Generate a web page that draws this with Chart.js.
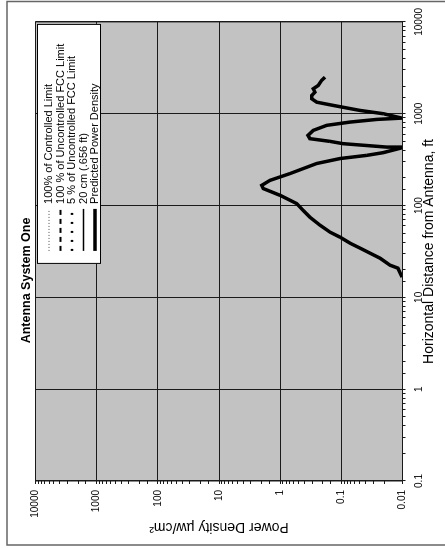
<!DOCTYPE html>
<html><head><meta charset="utf-8">
<script src="https://cdn.jsdelivr.net/npm/chart.js@4.4.1/dist/chart.umd.min.js"></script>
<style>
html,body{margin:0;padding:0;background:#fff;overflow:hidden;width:445px;height:548px;}
#wrap{position:absolute;left:0;top:0;width:548px;height:445px;transform-origin:0 0;transform:translate(0px,548px) rotate(-90deg);}
canvas{display:block;}
</style></head><body>
<div id="wrap"><canvas id="c" width="548" height="445"></canvas></div>
<script>
const chartTitle = "Antenna System One";
const xAxisTitle = "Horizontal Distance from Antenna, ft";
const yAxisTitle = "Power Density µw/cm²";
const seriesNames = ["100% of Controlled Limit", "100 % of Uncontrolled FCC Limit", "5 % of Uncontrolled FCC Limit", "20 cm (.656 ft)", "Predicted Power Density"];
const distanceFt = [16.6, 20.8, 22.4, 26.7, 30.3, 34.4, 38.9, 45.2, 51.3, 61.1, 74.6, 88.9, 105, 129, 153, 166, 188, 223, 287, 325, 352, 377, 425, 433, 452, 472, 500, 535, 581, 658, 747, 811, 867, 896, 1000, 1086, 1231, 1336, 1455, 1580, 1717, 1870, 2032, 2303, 2500];
const powerDensity = [0.0102, 0.0119, 0.016, 0.0233, 0.034, 0.0495, 0.072, 0.105, 0.153, 0.223, 0.326, 0.424, 0.537, 1.0, 1.89, 2.0, 1.47, 0.69, 0.253, 0.105, 0.0385, 0.0206, 0.0103, 0.0181, 0.041, 0.094, 0.153, 0.326, 0.35, 0.288, 0.174, 0.072, 0.0264, 0.0103, 0.0206, 0.0495, 0.135, 0.253, 0.305, 0.305, 0.27, 0.288, 0.238, 0.21, 0.185];
const limitControlled = [];
const limitUncontrolled = [];
const limitUncontrolled5 = [];
const limit20cm = [];
const xTicks = [0.1, 1, 10, 100, 1000, 10000];
const yTicks = [0.01, 0.1, 1, 10, 100, 1000, 10000];

const FONT = 'Arial, "Liberation Sans", sans-serif';
const DARK = '#1a1a1a';
const near = (a, b) => Math.abs(Math.log10(a) - Math.log10(b)) < 1e-6;
const isDecade = v => { const l = Math.log10(v); return Math.abs(l - Math.round(l)) < 1e-6; };
const labelFrom = list => v => { const m = list.find(t => near(t, v)); return m !== undefined ? String(m) : ''; };

const bgPlugin = {
  id: 'bg',
  beforeDraw(chart) {
    const {ctx, chartArea: a, width, height} = chart;
    ctx.save();
    ctx.fillStyle = '#fff';
    ctx.fillRect(0, 0, width, height);
    ctx.fillStyle = '#c2c2c2';
    ctx.fillRect(a.left, a.top, a.right - a.left, a.bottom - a.top);
    ctx.restore();
  },
  afterDraw(chart) {
    const {ctx, chartArea: a, height} = chart;
    ctx.save();
    // minor-free plot border
    ctx.strokeStyle = DARK; ctx.lineWidth = 1;
    ctx.strokeRect(a.left, a.top, a.right - a.left, a.bottom - a.top);
    // outer chart border
    ctx.strokeStyle = '#666'; ctx.lineWidth = 1.5;
    ctx.beginPath();
    ctx.moveTo(3, height); ctx.lineTo(3, 7); ctx.lineTo(546.5, 7); ctx.lineTo(546.5, height);
    ctx.stroke();
    // legend box
    const w = 240, h = 64;
    const x0 = a.right - 2 - w, y0 = a.top + 1.5;
    ctx.fillStyle = '#fff';
    ctx.fillRect(x0, y0, w, h);
    ctx.strokeStyle = '#000'; ctx.lineWidth = 1;
    ctx.strokeRect(x0 + 0.5, y0 + 0.5, w - 1, h - 1);
    ctx.font = '11px ' + FONT;
    ctx.textBaseline = 'middle';
    ctx.textAlign = 'left';
    chart.data.datasets.forEach((ds, i) => {
      const yy = y0 + 12 + i * 11.5;
      ctx.beginPath();
      ctx.setLineDash(ds.borderDash || []);
      ctx.strokeStyle = ds.borderColor;
      ctx.lineWidth = ds.borderWidth;
      ctx.moveTo(x0 + 13, yy); ctx.lineTo(x0 + 55, yy);
      ctx.stroke();
      ctx.setLineDash([]);
      ctx.fillStyle = '#000';
      ctx.fillText(ds.label, x0 + 60, yy);
    });
    ctx.restore();
  }
};

const gridOpts = {
  color: c => (c.tick && isDecade(c.tick.value)) ? DARK : 'rgba(0,0,0,0)',
  tickColor: DARK,
  tickLength: 3,
  lineWidth: 1,
  drawTicks: true
};

new Chart(document.getElementById('c'), {
  type: 'line',
  data: {
    datasets: [
      {label: seriesNames[0], data: limitControlled, borderColor: '#8a8a8a', borderWidth: 1.5, borderDash: [1, 2], pointRadius: 0},
      {label: seriesNames[1], data: limitUncontrolled, borderColor: '#000', borderWidth: 2, borderDash: [5, 4], pointRadius: 0},
      {label: seriesNames[2], data: limitUncontrolled5, borderColor: '#000', borderWidth: 2.5, borderDash: [2, 7], pointRadius: 0},
      {label: seriesNames[3], data: limit20cm, borderColor: '#000', borderWidth: 1.5, pointRadius: 0},
      {label: seriesNames[4], data: distanceFt.map((d, i) => ({x: d, y: powerDensity[i]})), borderColor: '#000', borderWidth: 3.5, pointRadius: 0, tension: 0, fill: false}
    ]
  },
  options: {
    responsive: false,
    animation: false,
    devicePixelRatio: 1,
    layout: {padding: {left: 8, right: 21, top: 0, bottom: 0}},
    plugins: {
      legend: {display: false},
      tooltip: {enabled: false},
      title: {display: true, text: chartTitle, color: '#000', font: {family: FONT, size: 12.5, weight: 'bold'}, padding: {top: 19, bottom: 1.5}}
    },
    scales: {
      x: {
        type: 'logarithmic', position: 'bottom', min: 0.1, max: 10000,
        afterFit(s) { s.height = 42.5; },
        grid: gridOpts,
        border: {display: true, color: DARK, width: 1},
        ticks: {autoSkip: false, maxRotation: 0, minRotation: 0, padding: 8, color: '#000', font: {family: FONT, size: 10}, callback: labelFrom(xTicks)},
        title: {display: true, text: xAxisTitle, color: '#000', font: {family: FONT, size: 14}, padding: {top: 0, bottom: 7.6}}
      },
      y: {
        type: 'logarithmic', position: 'left', min: 0.01, max: 10000,
        afterFit(s) { s.width = 59; },
        grid: gridOpts,
        border: {display: true, color: DARK, width: 1},
        ticks: {autoSkip: false, padding: 6, color: '#000', font: {family: FONT, size: 10}, callback: labelFrom(yTicks)},
        title: {display: true, text: yAxisTitle, color: '#000', font: {family: FONT, size: 14}, padding: {top: 4.6, bottom: 0}}
      }
    }
  },
  plugins: [bgPlugin]
});
</script>
</body></html>
